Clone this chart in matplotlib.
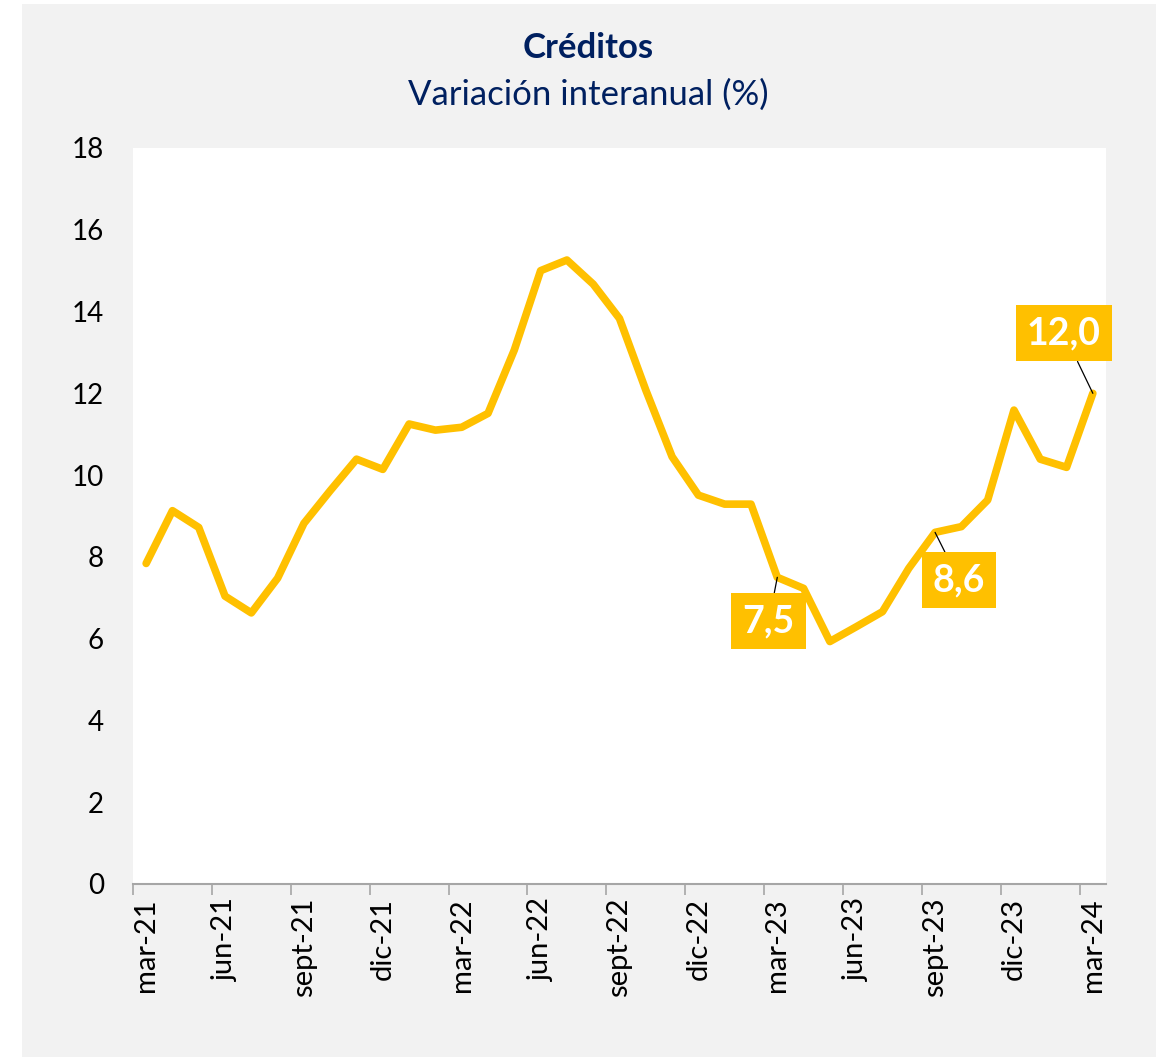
import numpy as np
import matplotlib
matplotlib.use("Agg")
import matplotlib.pyplot as plt
from matplotlib.patches import Rectangle

# ---------------------------------------------------------------
# data: year-on-year credit growth (%), monthly mar-21 .. mar-24
# ---------------------------------------------------------------
months = ["mar-21", "abr-21", "may-21", "jun-21", "jul-21", "ago-21",
          "sept-21", "oct-21", "nov-21", "dic-21", "ene-22", "feb-22",
          "mar-22", "abr-22", "may-22", "jun-22", "jul-22", "ago-22",
          "sept-22", "oct-22", "nov-22", "dic-22", "ene-23", "feb-23",
          "mar-23", "abr-23", "may-23", "jun-23", "jul-23", "ago-23",
          "sept-23", "oct-23", "nov-23", "dic-23", "ene-24", "feb-24",
          "mar-24"]
creditos = [7.84, 9.13, 8.72, 7.04, 6.63, 7.48, 8.82, 9.62, 10.39, 10.14,
            11.25, 11.10, 11.17, 11.51, 13.06, 15.00, 15.26, 14.67, 13.83,
            12.08, 10.45, 9.51, 9.29, 9.29, 7.5, 7.23, 5.93, 6.29, 6.66,
            7.72, 8.6, 8.74, 9.39, 11.59, 10.39, 10.19, 12.0]

# labelled points: index, text, box centre (x, y)
label_idx = [24, 30, 36]
label_txt = ["7,5", "8,6", "12,0"]
label_pos = [(23.68, 6.43), (30.91, 7.43), (34.9, 13.47)]

gold = "#FFC000"
navy = "#002060"
panel = "#F2F2F2"

plt.rcParams['font.family'] = ['Lato', 'DejaVu Sans']

fig = plt.figure(figsize=(11.56, 10.57), dpi=100)
fig.patch.set_facecolor("white")
fig.patches.append(Rectangle((22 / 1156, 0), 1 - 22 / 1156, 1053 / 1057,
                             transform=fig.transFigure, facecolor=panel,
                             edgecolor="none", zorder=-10))

ax = fig.add_axes([133 / 1156, 173 / 1057, (1106 - 133) / 1156, (884 - 148) / 1057])
ax.set_facecolor("white")

x = np.arange(len(months))
ax.plot(x, creditos, color=gold, lw=5.5, solid_joinstyle="round",
        solid_capstyle="round", zorder=3)

for i, t, (bx, by) in zip(label_idx, label_txt, label_pos):
    ax.annotate(t, xy=(x[i], creditos[i]), xytext=(bx, by),
                ha="center", va="center", color="white", fontsize=27,
                fontweight="bold",
                bbox=dict(boxstyle="square,pad=0.3", fc=gold, ec="none"),
                arrowprops=dict(arrowstyle="-", color="black", lw=0.9,
                                shrinkA=0, shrinkB=0),
                zorder=5)

ax.set_xlim(-0.5, len(months) - 0.5)
ax.set_ylim(0, 18)
ax.set_yticks(np.arange(0, 19, 2))
ax.tick_params(axis="y", length=0, pad=21, labelsize=20)

# tick marks on category boundaries, labels at category centres
ax.set_xticks(np.arange(-0.5, len(months) - 1, 3))
ax.set_xticklabels([])
ax.tick_params(axis="x", which="major", length=8, width=1.2, color="#A6A6A6")
ax.set_xticks(x[::3], minor=True)
ax.set_xticklabels(months[::3], minor=True, rotation=90)
ax.tick_params(axis="x", which="minor", length=0, pad=10, labelsize=21)

for s in ["top", "right", "left"]:
    ax.spines[s].set_visible(False)
ax.spines["bottom"].set_color("#A6A6A6")
ax.spines["bottom"].set_linewidth(1.5)

fig.text(588 / 1156, 1 - 48 / 1057, "Créditos", ha="center", va="center",
         fontsize=25, fontweight="bold", color=navy)
fig.text(588 / 1156, 1 - 95 / 1057, "Variación interanual (%)", ha="center",
         va="center", fontsize=25, color=navy)

fig.savefig("out.png", dpi=100)
